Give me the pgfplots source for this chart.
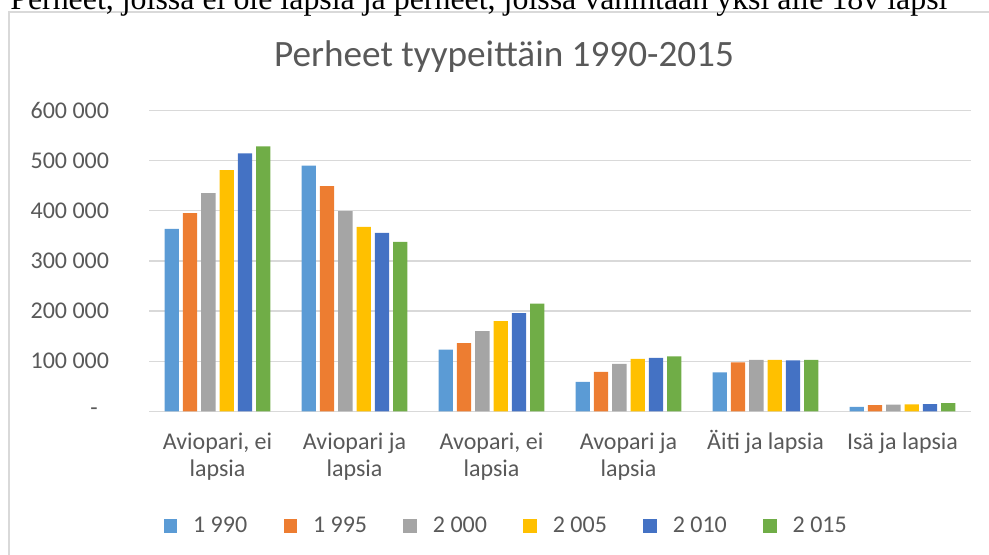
\documentclass[border=0pt]{standalone}
\usepackage{pgfplots}
\pgfplotsset{compat=1.18}
\usepackage{fontspec}
\setmainfont{Carlito}
\newfontfamily\serifft{Liberation Serif}
\definecolor{c1}{HTML}{5B9BD5}
\definecolor{c2}{HTML}{ED7D31}
\definecolor{c3}{HTML}{A5A5A5}
\definecolor{c4}{HTML}{FFC000}
\definecolor{c5}{HTML}{4472C4}
\definecolor{c6}{HTML}{70AD47}
\definecolor{txt}{HTML}{595959}
\definecolor{gridc}{HTML}{D9D9D9}
\newcommand{\st}{\rule{0pt}{15pt}}
\newcommand{\zerodash}{\makebox[0pt][r]{-\kern8pt}}
\begin{document}
\begin{tikzpicture}[x=0.75pt,y=0.75pt]
\useasboundingbox (0,0) rectangle (989,555);
\draw[gridc, line width=1.5pt] (9,-20) -- (9,543) -- (1010,543);
\node[anchor=base west, inner sep=0pt] at (10,545) {\resizebox{702.75pt}{!}{\serifft Perheet, joissa ei ole lapsia ja perheet, joissa vähintään yksi alle 18v lapsi}};
\node[anchor=base, text=txt, inner sep=0pt, font=\fontsize{27.9}{32}\selectfont] at (504,488.3) {Perheet tyypeittäin 1990-2015};
\begin{axis}[
  at={(111.75pt,107.625pt)}, anchor=south west,
  scale only axis, width=616.5pt, height=225.9pt,
  xmin=-0.5, xmax=5.5, ymin=0, ymax=600000,
  ybar=3pt, bar width=10.725pt,
  every axis plot post/.append style={legend image code/.code={\fill[##1] (0pt,-5.06pt) rectangle (10.125pt,5.06pt);}},
  axis line style={draw=none},
  major tick length=0pt,
  ymajorgrids, grid style={gridc, line width=1pt},
  scaled y ticks=false,
  ytick={0,100000,200000,300000,400000,500000,600000},
  yticklabels={\zerodash,100 000,200 000,300 000,400 000,500 000,600 000},
  yticklabel style={anchor=east, inner sep=0pt, xshift=-29.8pt, text=txt, font=\fontsize{18}{20.25}\selectfont},
  xtick={0,1,2,3,4,5},
  xticklabels={{\st Aviopari, ei\\lapsia},{\st Aviopari ja\\lapsia},{\st Avopari, ei\\lapsia},{\st Avopari ja\\lapsia},{\st Äiti ja lapsia},{\st Isä ja lapsia}},
  xticklabel style={align=center, anchor=north, inner sep=0pt, yshift=-13.5pt, text=txt, font=\fontsize{18}{20.25}\selectfont},
  legend columns=6,
  legend style={at={(0.0175,-0.380)}, anchor=west, draw=none, fill=none, inner sep=0pt,
    font=\fontsize{18}{20}\selectfont, text=txt,
    nodes={inner sep=0pt},
    /tikz/every odd column/.append style={column sep=12pt},
    /tikz/every even column/.append style={column sep=27.25pt}},
]
\addplot[fill=c1, draw=none] coordinates {(0,364000) (1,490000) (2,123000) (3,59000) (4,78000) (5,9000)};
\addplot[fill=c2, draw=none] coordinates {(0,395000) (1,449000) (2,136000) (3,79000) (4,98000) (5,12500)};
\addplot[fill=c3, draw=none] coordinates {(0,435000) (1,399000) (2,160000) (3,95000) (4,103000) (5,13500)};
\addplot[fill=c4, draw=none] coordinates {(0,481000) (1,368000) (2,180000) (3,105000) (4,103000) (5,14000)};
\addplot[fill=c5, draw=none] coordinates {(0,514000) (1,356000) (2,196000) (3,107000) (4,102000) (5,14500)};
\addplot[fill=c6, draw=none] coordinates {(0,528000) (1,338000) (2,215000) (3,110000) (4,103000) (5,16500)};
\legend{1 990,1 995,2 000,2 005,2 010,2 015}
\end{axis}
\end{tikzpicture}
\end{document}
